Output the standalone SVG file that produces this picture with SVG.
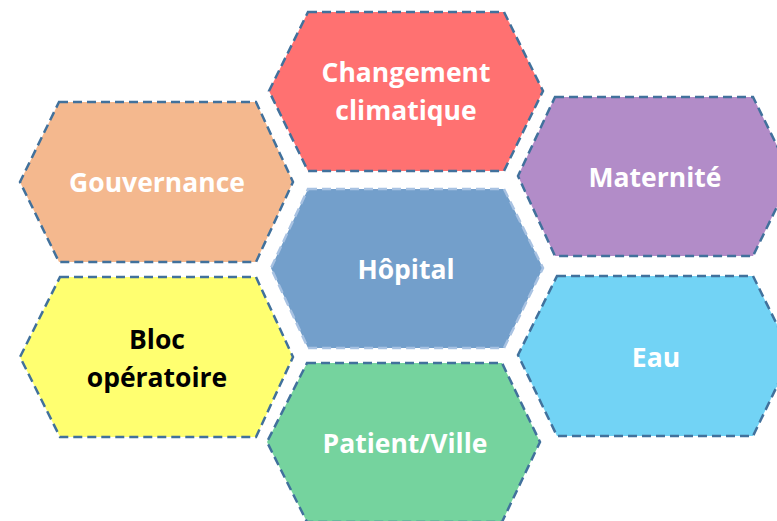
<svg xmlns="http://www.w3.org/2000/svg" width="777" height="521" viewBox="0 0 777 521">
<style>
.hex{stroke:#41719C;stroke-width:2.5;stroke-dasharray:9 5;}
.hexc{stroke:#a8c2e2;stroke-width:2.5;stroke-dasharray:9 5;}
text{font-family:"Open Sans","Liberation Sans",sans-serif;font-weight:700;font-size:26.5px;text-anchor:middle;fill:#ffffff;}
text.dark{fill:#000000;}
</style>
<rect width="777" height="521" fill="#ffffff"/>
<g id="connectors"></g>
<g id="changement">
<polygon class="hex" fill="#FF7171" points="308,12 504,12 543,91 504,171 308,171 269,91"/>
<text x="406" y="82">Changement</text>
<text x="406" y="120">climatique</text>
</g>
<g id="gouvernance">
<polygon class="hex" fill="#F4B88E" points="59,102 256,102 293,182 256,262 59,262 20,182"/>
<text x="157" y="192">Gouvernance</text>
</g>
<g id="maternite">
<polygon class="hex" fill="#B28CC8" points="555,97 753,97 792,176 753,256 555,256 518,176"/>
<text x="655" y="187">Maternité</text>
</g>
<g id="hopital">
<polygon class="hexc" fill="#739FCB" points="308,189 504,189 543,268 504,348 308,348 271,268"/>
<text x="406" y="279">Hôpital</text>
</g>
<g id="bloc">
<polygon class="hex" fill="#FFFF70" points="60,277 256,277 293,357 256,437 60,437 20,357"/>
<text class="dark" x="157" y="349">Bloc</text>
<text class="dark" x="157" y="387">opératoire</text>
</g>
<g id="eau">
<polygon class="hex" fill="#72D3F5" points="557,276 753,276 792,355 753,436 557,436 518,355"/>
<text x="656" y="367">Eau</text>
</g>
<g id="patient">
<polygon class="hex" fill="#75D39E" points="307,363 502,363 540,442 502,522 307,522 267,442"/>
<text x="405" y="453">Patient/Ville</text>
</g>
</svg>
